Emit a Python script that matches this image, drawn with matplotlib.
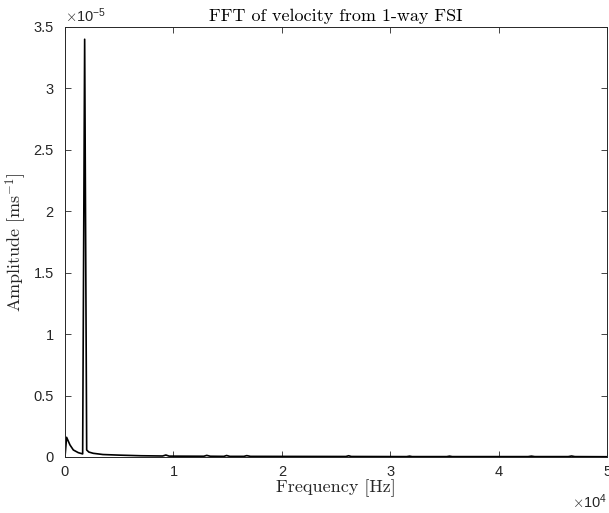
import numpy as np
import matplotlib
matplotlib.use('Agg')
import matplotlib.pyplot as plt
from matplotlib.ticker import FuncFormatter, MultipleLocator

plt.rcParams['mathtext.fontset'] = 'cm'
plt.rcParams['axes.unicode_minus'] = False

# spectrum (amplitude in units of 1e-5 m/s)
freq = [0, 150, 460, 770, 1230, 1630, 1814, 2000, 2200, 2600, 3500, 5000,
        7000, 9000, 9300, 9600, 12800, 13070, 13400, 14650, 14900, 15200,
        16500, 16760, 17100, 25900, 26150, 26400, 31500, 31770, 32000,
        35200, 35450, 35700, 42700, 43000, 43300, 46400, 46700, 47000, 50000]
amp_e5 = [0.0, 0.16, 0.098, 0.057, 0.035, 0.025, 3.40, 0.057, 0.040, 0.030,
          0.020, 0.015, 0.010, 0.008, 0.016, 0.007, 0.006, 0.013, 0.006,
          0.005, 0.012, 0.005, 0.005, 0.011, 0.005, 0.004, 0.010, 0.004,
          0.003, 0.007, 0.003, 0.003, 0.007, 0.003, 0.003, 0.007, 0.003,
          0.003, 0.008, 0.003, 0.002]

freq = np.array(freq, dtype=float)
amp = np.array(amp_e5) * 1e-5

fg = '#262626'
serif = ['cmr10']
sans = ['Liberation Sans', 'DejaVu Sans']

fig = plt.figure(figsize=(6.09, 5.13), dpi=100)
ax = fig.add_axes([0.1067, 0.1092, 0.8906, 0.8382])

ax.plot(freq, amp, color='black', linewidth=1.2)

ax.set_xlim(0, 5e4)
ax.set_ylim(0, 3.5e-5)
ax.xaxis.set_major_locator(MultipleLocator(1e4))
ax.yaxis.set_major_locator(MultipleLocator(0.5e-5))
ax.xaxis.set_major_formatter(FuncFormatter(lambda v, _: f'{v / 1e4:g}'))
ax.yaxis.set_major_formatter(FuncFormatter(lambda v, _: f'{v / 1e-5:g}'))

ax.tick_params(direction='in', length=4, width=0.6, top=True, right=True,
               labelsize=10.5, colors=fg)
ax.tick_params(axis='x', pad=6)
ax.tick_params(axis='y', pad=8)
for lab in ax.get_xticklabels() + ax.get_yticklabels():
    lab.set_family(sans)
for sp in ax.spines.values():
    sp.set_linewidth(0.7)
    sp.set_color(fg)

ax.set_title('FFT of velocity from 1-way FSI', family=serif, fontsize=13,
             color='black', pad=4)
ax.set_xlabel('Frequency [Hz]', family=serif, fontsize=13, color=fg, labelpad=0)
ax.set_ylabel(r'Amplitude [ms$^{-1}$]', family=serif, fontsize=13, color=fg,
              labelpad=3)

# MATLAB-style exponent labels
ax.text(0.0, 1.005, r'$\times\mathdefault{10^{-5}}$', transform=ax.transAxes,
        ha='left', va='bottom', fontsize=10.5, color=fg, family=sans)
ax.text(1.0, -0.083, r'$\times\mathdefault{10^{4}}$', transform=ax.transAxes,
        ha='right', va='top', fontsize=10.5, color=fg, family=sans)

fig.savefig('out.png', dpi=100)
